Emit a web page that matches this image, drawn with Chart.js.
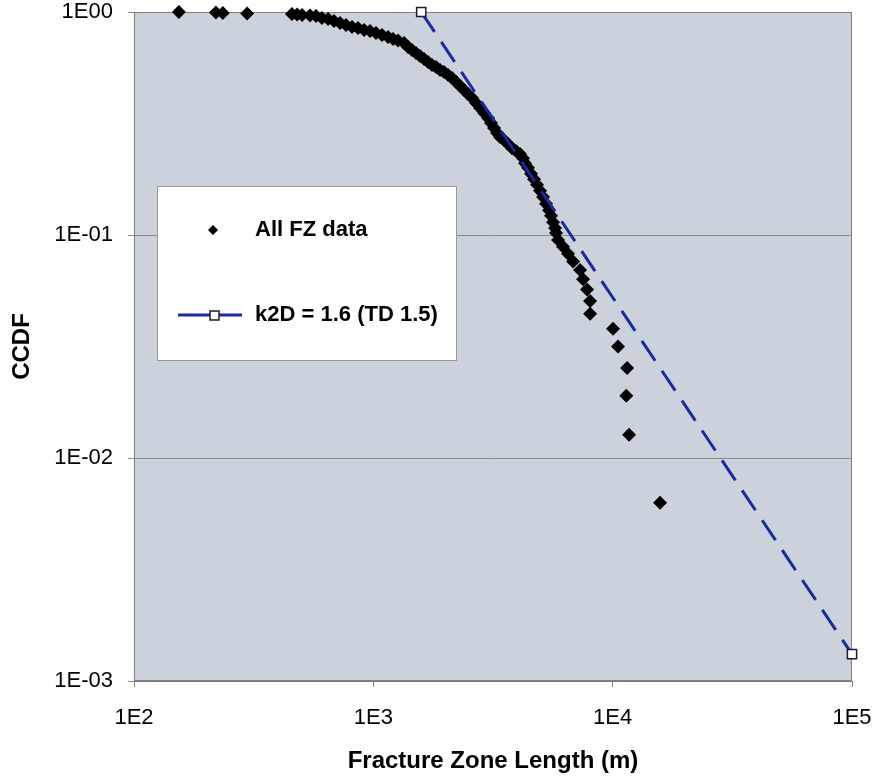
<!DOCTYPE html>
<html>
<head>
<meta charset="utf-8">
<script src="https://cdn.jsdelivr.net/npm/chart.js@4"></script>
<style>
  html, body { margin: 0; padding: 0; background: #fff; }
  #wrap { width: 874px; height: 778px; }
</style>
</head>
<body>
<div id="wrap"><canvas id="ccdf-chart" width="874" height="778"></canvas></div>
<script>
// Fracture zone lengths (m) and CCDF
const lengths = [
  154, 220, 235, 297, 457, 480, 504, 544, 576, 610,
  647, 685, 726, 769, 815, 863, 915, 969, 1026, 1087,
  1152, 1209, 1268, 1344, 1396, 1451, 1508, 1567, 1629, 1692,
  1759, 1828, 1900, 1974, 2052, 2133, 2216, 2303, 2393, 2487,
  2585, 2687, 2792, 2901, 3015, 3104, 3194, 3288, 3382, 3517,
  3655, 3798, 3946, 4102, 4222, 4305, 4431, 4560, 4694, 4832,
  4973, 5119, 5269, 5423, 5529, 5636, 5744, 5800, 5913, 6204,
  6510, 6832, 7309, 7522, 7817, 8045, 8050, 10040, 10530, 11490,
  11400, 11710, 15780
];
const ccdf = [
  1.0, 0.994, 0.99, 0.985, 0.98, 0.975, 0.97, 0.965, 0.96, 0.94,
  0.93, 0.911, 0.893, 0.874, 0.856, 0.848, 0.83, 0.822, 0.805, 0.789,
  0.772, 0.757, 0.745, 0.726, 0.697, 0.675, 0.655, 0.635, 0.616, 0.597,
  0.578, 0.567, 0.549, 0.538, 0.522, 0.506, 0.486, 0.466, 0.447, 0.429,
  0.411, 0.391, 0.371, 0.352, 0.335, 0.318, 0.302, 0.287, 0.275, 0.267,
  0.256, 0.245, 0.238, 0.231, 0.221, 0.21, 0.2, 0.188, 0.178, 0.168,
  0.158, 0.148, 0.138, 0.129, 0.122, 0.114, 0.1075, 0.102, 0.0949, 0.0886,
  0.0823, 0.076, 0.0696, 0.0633, 0.057, 0.0506, 0.0443, 0.038, 0.0316, 0.0253,
  0.019, 0.0127, 0.0063
];

// power law fit, only its two end points
const fitLengths = [1585, 100000];
const fitCcdf = [1.0, 0.00132];

const seriesNames = ['All FZ data', 'k2D = 1.6 (TD 1.5)'];

const xTickValues = [1e2, 1e3, 1e4, 1e5];
const xTickLabels = ['1E2', '1E3', '1E4', '1E5'];
const yTickValues = [1e-3, 1e-2, 1e-1, 1];
const yTickLabels = ['1E-03', '1E-02', '1E-01', '1E00'];

const FONT = "'Liberation Sans', Arial, sans-serif";
const LINE_BLUE = '#1a2aa0';
const FRAME = '#808080';

const toPoints = (xs, ys) => xs.map((x, i) => ({ x: x, y: ys[i] }));

// plot background, outer frame and the boxed legend
const decorPlugin = {
  id: 'decor',
  beforeDraw(chart) {
    const { ctx, chartArea: a } = chart;
    ctx.save();
    ctx.fillStyle = 'rgb(204,210,220)';
    ctx.fillRect(a.left, a.top, a.right - a.left, a.bottom - a.top);
    ctx.restore();
  },
  beforeDatasetsDraw(chart) {
    const { ctx, chartArea: a } = chart;
    ctx.save();
    ctx.strokeStyle = FRAME;
    ctx.lineWidth = 1;
    ctx.strokeRect(a.left + 0.5, a.top + 0.5, a.right - a.left - 1, a.bottom - a.top - 1);
    ctx.restore();
  },
  afterDatasetsDraw(chart) {
    const { ctx, chartArea: a } = chart;
    const bx = a.left + 23, by = a.top + 174, bw = 299, bh = 174;
    ctx.save();
    ctx.fillStyle = '#fff';
    ctx.fillRect(bx, by, bw, bh);
    ctx.strokeStyle = '#999';
    ctx.lineWidth = 1;
    ctx.strokeRect(bx + 0.5, by + 0.5, bw, bh);

    // entry 1: diamond marker
    const y1 = by + 44;
    ctx.fillStyle = '#000';
    ctx.beginPath();
    ctx.moveTo(bx + 56 - 5, y1);
    ctx.lineTo(bx + 56, y1 - 5);
    ctx.lineTo(bx + 56 + 5, y1);
    ctx.lineTo(bx + 56, y1 + 5);
    ctx.closePath();
    ctx.fill();

    // entry 2: line with hollow square
    const y2 = by + 129;
    ctx.strokeStyle = LINE_BLUE;
    ctx.lineWidth = 3;
    ctx.beginPath();
    ctx.moveTo(bx + 21, y2);
    ctx.lineTo(bx + 85, y2);
    ctx.stroke();
    ctx.fillStyle = '#fff';
    ctx.fillRect(bx + 53, y2 - 4, 9, 9);
    ctx.strokeStyle = '#1a1a3a';
    ctx.lineWidth = 1.5;
    ctx.strokeRect(bx + 53, y2 - 4, 9, 9);

    ctx.fillStyle = '#000';
    ctx.font = 'bold 22px ' + FONT;
    ctx.textAlign = 'left';
    ctx.textBaseline = 'middle';
    ctx.fillText(seriesNames[0], bx + 98, y1);
    ctx.fillText(seriesNames[1], bx + 98, y2);
    ctx.restore();
  }
};

new Chart(document.getElementById('ccdf-chart'), {
  type: 'scatter',
  data: {
    datasets: [
      {
        label: seriesNames[0],
        data: toPoints(lengths, ccdf),
        pointStyle: 'rectRot',
        pointRadius: 7,
        pointBackgroundColor: '#000',
        pointBorderColor: '#000',
        pointBorderWidth: 0,
        showLine: false,
        clip: false,
        order: 1
      },
      {
        label: seriesNames[1],
        data: toPoints(fitLengths, fitCcdf),
        showLine: true,
        borderColor: LINE_BLUE,
        borderWidth: 3,
        borderDash: [24, 12],
        pointStyle: 'rect',
        pointRadius: 6.5,
        pointBackgroundColor: '#fff',
        pointBorderColor: '#1a1a3a',
        pointBorderWidth: 1.5,
        clip: false,
        order: 0
      }
    ]
  },
  options: {
    responsive: false,
    animation: false,
    devicePixelRatio: 1,
    layout: { padding: { top: 12, right: 22, left: 0, bottom: 0 } },
    plugins: {
      legend: { display: false },
      tooltip: { enabled: false }
    },
    scales: {
      x: {
        type: 'logarithmic',
        min: 100,
        max: 100000,
        afterBuildTicks: (scale) => { scale.ticks = xTickValues.map(v => ({ value: v })); },
        afterFit: (scale) => {
          scale.height = 97;
          scale.paddingLeft = 0;
          scale.paddingRight = 0;
        },
        ticks: {
          autoSkip: false,
          maxRotation: 0,
          padding: 18,
          color: '#000',
          font: { family: FONT, size: 22 },
          callback: (value, index) => xTickLabels[index]
        },
        grid: { drawOnChartArea: false, drawTicks: true, tickLength: 6, color: FRAME },
        border: { display: true, color: FRAME },
        title: {
          display: true,
          text: 'Fracture Zone Length (m)',
          color: '#000',
          font: { family: FONT, size: 24, weight: 'bold' },
          padding: { top: 0, bottom: 2 }
        }
      },
      y: {
        type: 'logarithmic',
        min: 0.001,
        max: 1,
        afterBuildTicks: (scale) => { scale.ticks = yTickValues.map(v => ({ value: v })); },
        afterFit: (scale) => {
          scale.width = 134;
          scale.paddingTop = 0;
          scale.paddingBottom = 0;
        },
        ticks: {
          autoSkip: false,
          padding: 15,
          color: '#000',
          font: { family: FONT, size: 22 },
          callback: (value, index) => yTickLabels[index]
        },
        grid: { drawTicks: true, tickLength: 6, color: '#8a8a8a' },
        border: { display: true, color: FRAME },
        title: {
          display: true,
          text: 'CCDF',
          color: '#000',
          font: { family: FONT, size: 24, weight: 'bold' },
          padding: { top: 8, bottom: 0 }
        }
      }
    }
  },
  plugins: [decorPlugin]
});
</script>
</body>
</html>
